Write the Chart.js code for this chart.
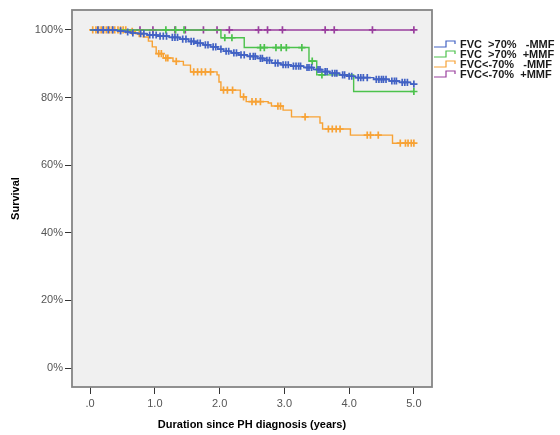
<!DOCTYPE html>
<html>
<head>
<meta charset="utf-8">
<script src="https://cdn.jsdelivr.net/npm/chart.js@4.4.1/dist/chart.umd.min.js"></script>
<style>
  html, body { margin: 0; padding: 0; background: #fff; }
  #wrap { width: 560px; height: 435px; }
</style>
</head>
<body>
<div id="wrap"><canvas id="km"></canvas></div>
<script>
// axis ticks
const xTicks = [0, 1, 2, 3, 4, 5];
const yTicks = [0, 20, 40, 60, 80, 100];

const groupLabels = ['FVC  >70%   -MMF', 'FVC  >70%  +MMF', 'FVC<-70%   -MMF', 'FVC<-70%  +MMF'];
const groupColors = ['#4262c4', '#4cc24c', '#f7a235', '#9a3f9e'];

// FVC >70%, no MMF: event times (years) and survival (%) after each step
const blueEventT = [0, 0.42, 0.55, 0.63, 0.74, 0.88, 1.05, 1.22, 1.38, 1.52, 1.63, 1.75, 1.86, 1.97, 2.06, 2.18, 2.29, 2.43, 2.58, 2.69, 2.8, 2.95, 3.1, 3.3, 3.45, 3.58, 3.7, 3.85, 3.97, 4.1, 4.38, 4.62, 4.78, 4.95];
const blueEventS = [100, 99.7, 99.4, 99.1, 98.9, 98.5, 98.2, 97.8, 97.3, 96.6, 96.1, 95.6, 95.0, 94.3, 93.7, 93.2, 92.6, 92.2, 91.6, 91.0, 90.2, 89.7, 89.3, 88.9, 88.3, 87.7, 87.2, 86.7, 86.3, 85.9, 85.4, 84.9, 84.5, 84.0];
const blueCensorT = [0.12, 0.2, 0.28, 0.35, 0.47, 0.58, 0.66, 0.78, 0.83, 0.92, 0.97, 1.02, 1.08, 1.13, 1.18, 1.27, 1.31, 1.35, 1.43, 1.48, 1.56, 1.6, 1.66, 1.7, 1.78, 1.82, 1.9, 1.94, 2.02, 2.1, 2.14, 2.22, 2.26, 2.33, 2.38, 2.47, 2.52, 2.55, 2.63, 2.66, 2.73, 2.77, 2.86, 2.9, 2.98, 3.02, 3.06, 3.14, 3.18, 3.22, 3.25, 3.35, 3.38, 3.42, 3.52, 3.55, 3.63, 3.66, 3.74, 3.78, 3.81, 3.9, 3.93, 4.0, 4.04, 4.14, 4.18, 4.22, 4.28, 4.42, 4.46, 4.5, 4.53, 4.57, 4.66, 4.7, 4.73, 4.82, 4.86, 4.9, 5.0];

// FVC >70%, MMF
const greenEventT = [0, 2.02, 2.38, 3.38, 3.5, 4.07];
const greenEventS = [100, 97.7, 94.8, 90.8, 86.7, 81.8];
const greenCensorT = [1.17, 1.32, 1.45, 2.08, 2.19, 2.63, 2.69, 2.87, 2.95, 3.03, 3.27, 3.43, 3.58, 5.0];

// FVC <=70%, no MMF
const orangeEventT = [0, 0.59, 0.7, 0.82, 0.9, 0.96, 1.02, 1.13, 1.28, 1.44, 1.55, 1.96, 1.99, 2.02, 2.32, 2.41, 2.75, 2.8, 2.98, 3.11, 3.55, 3.59, 4.02, 4.67];
const orangeEventS = [100, 99.6, 98.9, 97.9, 96.7, 95.0, 93.0, 91.7, 90.7, 89.6, 87.6, 86.7, 84.6, 82.2, 80.2, 78.8, 78.4, 77.5, 76.3, 74.3, 72.5, 70.7, 68.9, 66.5];
const orangeCensorT = [0.04, 0.09, 0.13, 0.17, 0.21, 0.25, 0.3, 0.34, 0.38, 0.43, 0.47, 0.51, 0.55, 0.65, 0.76, 1.06, 1.1, 1.17, 1.2, 1.33, 1.6, 1.66, 1.72, 1.78, 1.86, 2.06, 2.12, 2.2, 2.37, 2.5, 2.56, 2.63, 2.9, 2.94, 3.32, 3.68, 3.74, 3.8, 3.86, 4.28, 4.33, 4.45, 4.79, 4.87, 4.91, 4.96, 5.0];

// FVC <=70%, MMF: no events
const purpleEventT = [0];
const purpleEventS = [100];
const purpleCensorT = [0.77, 0.97, 1.31, 1.47, 1.75, 1.96, 2.15, 2.6, 2.74, 2.97, 3.63, 3.77, 4.36, 5.0];

// merge steps and censor marks; a censored case sits on the current step
function kmPoints(eventT, eventS, censorT) {
    const pts = eventT.map((t, i) => ({ x: t, y: eventS[i], censored: false }));
    censorT.forEach(t => {
        let s = 100;
        eventT.forEach((et, i) => { if (et <= t) s = eventS[i]; });
        pts.push({ x: t, y: s, censored: true });
    });
    return pts.sort((a, b) => a.x - b.x);
}

const series = [
    kmPoints(blueEventT, blueEventS, blueCensorT),
    kmPoints(greenEventT, greenEventS, greenCensorT),
    kmPoints(orangeEventT, orangeEventS, orangeCensorT),
    kmPoints(purpleEventT, purpleEventS, purpleCensorT)
];

// grey plot panel with a frame
const framePlugin = {
    id: 'frame',
    beforeDraw(chart) {
        const a = chart.chartArea, ctx = chart.ctx;
        ctx.save();
        ctx.fillStyle = '#f0f0f0';
        ctx.fillRect(a.left, a.top, a.right - a.left, a.bottom - a.top);
        ctx.restore();
    },
    afterDraw(chart) {
        const a = chart.chartArea, ctx = chart.ctx;
        ctx.save();
        ctx.strokeStyle = '#858585';
        ctx.lineWidth = 1.8;
        ctx.strokeRect(a.left, a.top, a.right - a.left, a.bottom - a.top);
        ctx.restore();
    }
};

// legend to the right of the panel, with a little step symbol
const sideLegend = {
    id: 'sideLegend',
    afterDraw(chart) {
        const ctx = chart.ctx;
        const x0 = chart.chartArea.right + 2;
        ctx.save();
        ctx.font = 'bold 11px "Liberation Sans", Arial, sans-serif';
        ctx.textBaseline = 'middle';
        chart.data.datasets.forEach((ds, i) => {
            const y = 44 + i * 10;
            ctx.strokeStyle = ds.borderColor;
            ctx.lineWidth = 1.2;
            ctx.beginPath();
            ctx.moveTo(x0, y + 3);
            ctx.lineTo(x0 + 12, y + 3);
            ctx.lineTo(x0 + 12, y - 3);
            ctx.lineTo(x0 + 21, y - 3);
            ctx.lineTo(x0 + 21, y);
            ctx.stroke();
            ctx.fillStyle = '#1a1a1a';
            ctx.fillText(ds.label, x0 + 26, y + 0.5);
        });
        ctx.restore();
    }
};

Chart.defaults.font.family = '"Liberation Sans", Arial, sans-serif';

new Chart(document.getElementById('km'), {
    type: 'line',
    data: {
        datasets: series.map((pts, i) => ({
            label: groupLabels[i],
            data: pts,
            borderColor: groupColors[i],
            backgroundColor: groupColors[i],
            borderWidth: 1.4,
            stepped: 'before',
            fill: false,
            pointStyle: 'cross',
            pointRadius: ctx => (ctx.raw && ctx.raw.censored ? 3.6 : 0),
            pointBorderColor: groupColors[i],
            pointBorderWidth: 1.7,
            pointHoverRadius: 0
        }))
    },
    options: {
        responsive: true,
        maintainAspectRatio: false,
        animation: false,
        layout: { padding: { top: 10, right: 128, bottom: 0, left: 0 } },
        plugins: {
            legend: { display: false },
            tooltip: { enabled: false }
        },
        scales: {
            x: {
                type: 'linear',
                min: -0.28,
                max: 5.28,
                afterBuildTicks: scale => { scale.ticks = xTicks.map(v => ({ value: v })); },
                afterFit: scale => { scale.height = 48; },
                ticks: {
                    padding: 3,
                    color: '#555',
                    font: { size: 11 },
                    maxRotation: 0,
                    callback: v => (v === 0 ? '.0' : v.toFixed(1))
                },
                grid: {
                    drawOnChartArea: false,
                    tickLength: 7,
                    tickColor: '#333'
                },
                border: { display: false },
                title: {
                    display: true,
                    text: 'Duration since PH diagnosis (years)',
                    color: '#000',
                    font: { size: 11, weight: 'bold' },
                    padding: { top: 0, bottom: 3.5 }
                }
            },
            y: {
                min: -5.6,
                max: 105.9,
                afterBuildTicks: scale => { scale.ticks = yTicks.map(v => ({ value: v })); },
                afterFit: scale => { scale.width = 72; },
                ticks: {
                    padding: 2,
                    color: '#555',
                    font: { size: 11 },
                    callback: v => v + '%'
                },
                grid: {
                    drawOnChartArea: false,
                    tickLength: 7,
                    tickColor: '#333'
                },
                border: { display: false },
                title: {
                    display: true,
                    text: 'Survival',
                    color: '#000',
                    font: { size: 11, weight: 'bold' },
                    padding: { top: 9, bottom: 0 }
                }
            }
        }
    },
    plugins: [framePlugin, sideLegend]
});
</script>
</body>
</html>
